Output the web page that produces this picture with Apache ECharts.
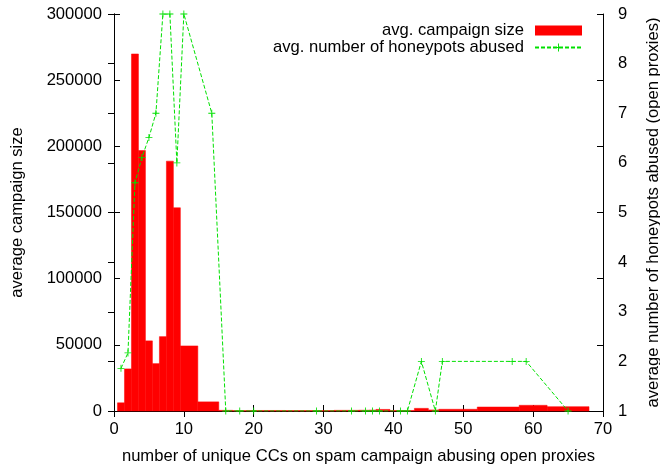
<!DOCTYPE html>
<html>
<head>
<meta charset="utf-8">
<script src="https://cdn.jsdelivr.net/npm/echarts@6/dist/echarts.min.js"></script>
<style>
  html, body { margin: 0; padding: 0; background: #fff; }
  #chart { width: 660px; height: 468px; }
</style>
</head>
<body>
<div id="chart"></div>
<script>
var ccCounts = [1, 2, 3, 4, 5, 6, 7, 8, 9, 10, 14, 16, 18, 20, 29, 34, 36, 37, 38, 41, 42, 44, 46, 47, 57, 59, 65];
var avgCampaignSize = [6200, 31800, 269800, 196800, 53000, 35800, 56200, 188800, 153600, 49200, 6900,
  500, 300, 400, 300, 500, 600, 700, 1200, 400, 400, 2000, 800, 1300, 3000, 4300, 3300];
var avgHoneypots = [1.86, 2.17, 5.6, 6.11, 6.51, 7, 9, 9, 6, 9, 7,
  1, 1, 1, 1, 1, 1, 1, 1, 1, 1, 2, 1, 2, 2, 2, 1];
var xTicks = [0, 10, 20, 30, 40, 50, 60, 70];

var font = 'Liberation Sans';
var plus = 'path://M4.4,0H5.6V4.4H10V5.6H5.6V10H4.4V5.6H0V4.4H4.4Z';

// gnuplot style boxes: each box reaches halfway to its neighbours
var boxes = ccCounts.map(function (x, i) {
  var n = ccCounts.length;
  var left = i > 0 ? (ccCounts[i - 1] + x) / 2 : x - (ccCounts[1] - x) / 2;
  var right = i < n - 1 ? (x + ccCounts[i + 1]) / 2 : x + (x - ccCounts[n - 2]) / 2;
  return [x, avgCampaignSize[i], left, right];
});
var honeypotPoints = ccCounts.map(function (x, i) { return [x, avgHoneypots[i]]; });

function renderBox(params, api) {
  var top = api.coord([api.value(2), api.value(1)]);
  var base = api.coord([api.value(3), 0]);
  return {
    type: 'rect',
    shape: { x: top[0], y: top[1], width: base[0] - top[0], height: base[1] - top[1] },
    style: { fill: '#ff0000', stroke: '#ff0000', lineWidth: 0.5 }
  };
}

var axisLine = { show: true, lineStyle: { color: '#000', width: 1 } };
var tickIn = { show: true, inside: true, length: 6, lineStyle: { color: '#000' } };
var label = { color: '#000', fontFamily: font, fontSize: 16.6 };

var myChart = echarts.init(document.getElementById('chart'));
var option = {
  animation: false,
  grid: { left: 114, right: 57, top: 14, bottom: 57, outerBoundsMode: 'none', containLabel: false },
  legend: {
    orient: 'vertical',
    right: 72,
    top: 17,
    align: 'right',
    itemGap: 0,
    itemWidth: 47,
    itemHeight: 10,
    textStyle: { color: '#000', fontFamily: font, fontSize: 16.6, lineHeight: 16, padding: [0, 6, 0, 0] },
    data: [
      { name: 'avg. campaign size', icon: 'rect' },
      { name: 'avg. number of honeypots abused' }
    ]
  },
  xAxis: [
    {
      type: 'value', min: 0, max: 70, interval: 10,
      name: 'number of unique CCs on spam campaign abusing open proxies',
      nameLocation: 'middle', nameGap: 37,
      nameTextStyle: label,
      axisLine: axisLine, axisTick: tickIn,
      axisLabel: Object.assign({ margin: 10, formatter: function (v) { return xTicks.indexOf(v) >= 0 ? String(v) : ''; } }, label),
      splitLine: { show: false }
    },
    {
      type: 'value', position: 'top', min: 0, max: 70, interval: 10,
      axisLine: axisLine, axisTick: tickIn,
      axisLabel: { show: false }, splitLine: { show: false }
    }
  ],
  yAxis: [
    {
      type: 'value', min: 0, max: 300000, interval: 50000,
      name: 'average campaign size',
      nameLocation: 'middle', nameGap: 88,
      nameTextStyle: label,
      axisLine: axisLine, axisTick: tickIn,
      axisLabel: Object.assign({ margin: 12, formatter: function (v) { return String(v); } }, label),
      splitLine: { show: false }
    },
    {
      type: 'value', position: 'right', min: 1, max: 9, interval: 1,
      name: 'average number of honeypots abused (open proxies)',
      nameLocation: 'middle', nameGap: 42, nameRotate: 90,
      nameTextStyle: label,
      axisLine: axisLine, axisTick: tickIn,
      axisLabel: Object.assign({ margin: 15 }, label),
      splitLine: { show: false }
    },
    {
      type: 'value', position: 'right', min: 0, max: 300000, interval: 50000,
      axisLine: axisLine, axisTick: tickIn,
      axisLabel: { show: false }, splitLine: { show: false }
    }
  ],
  series: [
    {
      name: 'avg. campaign size',
      type: 'custom',
      renderItem: renderBox,
      encode: { x: 0, y: 1 },
      itemStyle: { color: '#ff0000' },
      data: boxes,
      z: 2
    },
    {
      name: 'avg. number of honeypots abused',
      type: 'line',
      yAxisIndex: 1,
      data: honeypotPoints,
      symbol: plus,
      symbolSize: 7,
      showAllSymbol: true,
      itemStyle: { color: '#00e000' },
      lineStyle: { color: '#00e000', width: 1, type: [4, 2] },
      z: 3
    }
  ]
};
myChart.setOption(option);
</script>
</body>
</html>
